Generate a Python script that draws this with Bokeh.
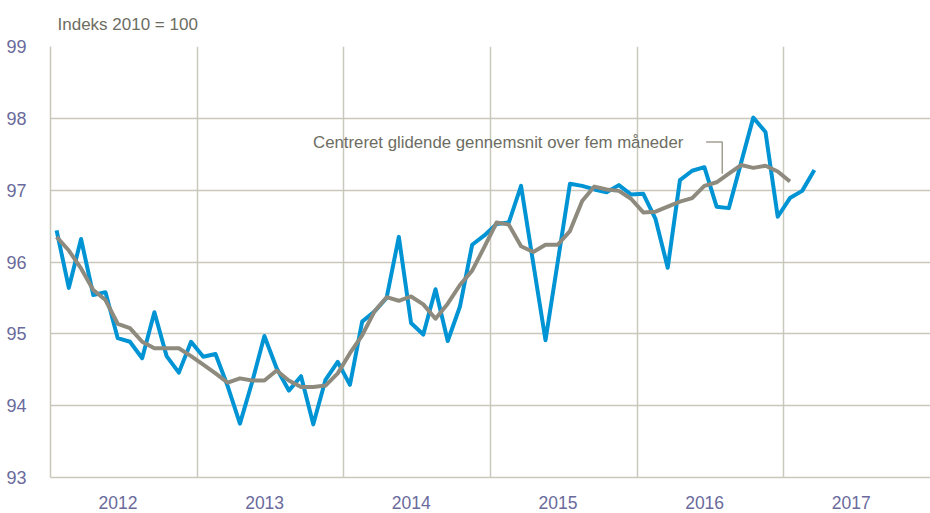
from bokeh.plotting import figure
from bokeh.models import FixedTicker, Label, Range1d
from bokeh.embed import file_html
from bokeh.resources import INLINE

# ---------------- data ----------------
start_year = 2012
year_labels = ["2012", "2013", "2014", "2015", "2016", "2017"]
y_ticks = [93, 94, 95, 96, 97, 98, 99]

monthly_index = [
    96.44, 95.64, 96.32, 95.54, 95.58, 94.94, 94.89, 94.66, 95.30, 94.69, 94.46, 94.89,  # 2012
    94.68, 94.72, 94.27, 93.75, 94.33, 94.97, 94.52, 94.21, 94.41, 93.74, 94.36, 94.61,  # 2013
    94.29, 95.17, 95.31, 95.50, 96.35, 95.15, 94.99, 95.62, 94.90, 95.38, 96.24, 96.37,  # 2014
    96.53, 96.55, 97.06, 95.98, 94.91, 96.00, 97.09, 97.06, 97.01, 96.97, 97.07, 96.94,  # 2015
    96.95, 96.60, 95.92, 97.14, 97.27, 97.32, 96.77, 96.75, 97.38, 98.01, 97.81, 96.63,  # 2016
    96.89, 96.99, 97.28,                                                                  # 2017
]
moving_avg = [
    96.35, 96.16, 95.91, 95.61, 95.47, 95.14, 95.08, 94.89, 94.80, 94.80, 94.80, 94.69,  # 2012
    94.57, 94.45, 94.32, 94.38, 94.35, 94.35, 94.49, 94.35, 94.26, 94.26, 94.28, 94.45,  # 2013
    94.73, 94.98, 95.31, 95.51, 95.46, 95.52, 95.41, 95.21, 95.42, 95.68, 95.88, 96.21,  # 2014
    96.55, 96.52, 96.22, 96.14, 96.24, 96.24, 96.43, 96.85, 97.05, 97.01, 96.99, 96.88,  # 2015
    96.69, 96.70, 96.77, 96.84, 96.89, 97.06, 97.11, 97.23, 97.35, 97.31, 97.34, 97.26,  # 2016
    97.12,                                                                                # 2017
]
title_text = "Indeks 2010  = 100"
annotation_text = "Centreret glidende gennemsnit over fem måneder"

# ---------------- styling ----------------
FONT = "Liberation Sans"
BLUE = "#0094d4"
GREY = "#8e8b7e"
GRID = "#c9c8bc"
TICK_COLOR = "#6a6a9c"
TEXT_COLOR = "#6d6d62"

x_blue = [start_year + (i + 0.5) / 12 for i in range(len(monthly_index))]
x_avg = [start_year + (i + 0.5) / 12 for i in range(len(moving_avg))]
years = [start_year + i for i in range(len(year_labels))]

p = figure(width=930, height=513, output_backend="svg", toolbar_location=None,
           x_range=Range1d(start_year, start_year + 6.0), y_range=Range1d(93, 99),
           min_border_left=50, min_border_right=0, min_border_top=45, min_border_bottom=36)
p.outline_line_color = None
p.background_fill_color = "white"
p.border_fill_color = "white"

p.title.text = title_text
p.title.text_font = FONT
p.title.text_font_size = "17px"
p.title.text_font_style = "normal"
p.title.text_color = TEXT_COLOR
p.title.offset = 7
p.title.standoff = 25

# x axis: labels centred in each year, grid at year boundaries
p.xaxis.ticker = FixedTicker(ticks=[y + 0.46 for y in years])
p.xaxis.major_label_overrides = {y + 0.46: lab for y, lab in zip(years, year_labels)}
p.xaxis.major_tick_line_color = None
p.xaxis.minor_tick_line_color = None
p.xaxis.axis_line_color = GRID
p.xaxis.axis_line_width = 1.5
p.xaxis.major_label_text_font = FONT
p.xaxis.major_label_text_font_size = "17.5px"
p.xaxis.major_label_text_color = TICK_COLOR
p.xaxis.major_label_standoff = 12
p.xgrid.ticker = FixedTicker(ticks=years)
p.xgrid.grid_line_color = GRID
p.xgrid.grid_line_width = 1.5

p.yaxis.ticker = FixedTicker(ticks=y_ticks)
p.yaxis.major_tick_line_color = None
p.yaxis.minor_tick_line_color = None
p.yaxis.axis_line_color = GRID
p.yaxis.axis_line_width = 1.5
p.yaxis.major_label_text_font = FONT
p.yaxis.major_label_text_font_size = "18px"
p.yaxis.major_label_text_color = TICK_COLOR
p.yaxis.major_label_standoff = 18
p.ygrid.grid_line_color = GRID
p.ygrid.grid_line_width = 1.5

p.line(x_blue, monthly_index, line_color=BLUE, line_width=4, line_join="round")
p.line(x_avg, moving_avg, line_color=GREY, line_width=4, line_join="round")

# annotation with leader line
ann_x, ann_y = 2013.79, 97.67
leader_x = [2016.47, 2016.58, 2016.58]
leader_y = [97.67, 97.67, 97.23]
p.line(leader_x, leader_y, line_color="#a19e92", line_width=1.5)
p.add_layout(Label(x=ann_x, y=ann_y, text=annotation_text, text_font=FONT,
                   text_font_size="16.8px", text_color=TEXT_COLOR, text_baseline="middle"))

open("out.html", "w").write(file_html(p, INLINE))
